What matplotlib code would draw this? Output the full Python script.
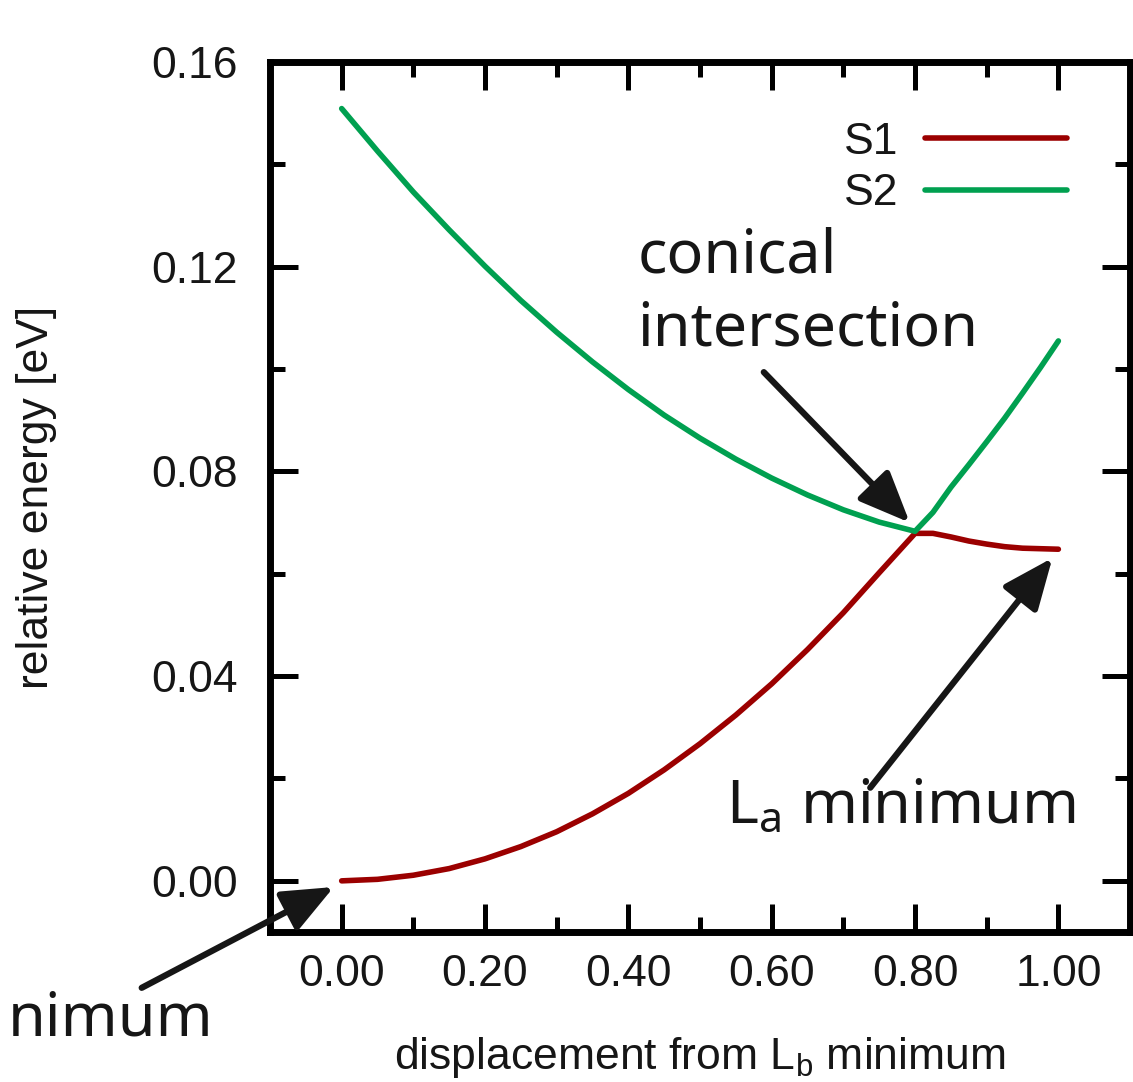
import matplotlib
matplotlib.use("Agg")
import matplotlib.pyplot as plt
from matplotlib.ticker import MultipleLocator, FormatStrFormatter

plt.rcParams['font.family'] = ['Liberation Sans', 'DejaVu Sans']
plt.rcParams['mathtext.default'] = 'regular'

# displacement along the path (fraction of the way to the La minimum)
disp = [0.00, 0.05, 0.10, 0.15, 0.20, 0.25, 0.30, 0.35, 0.40, 0.45, 0.50,
        0.55, 0.60, 0.65, 0.70, 0.75, 0.80, 0.825, 0.85, 0.875, 0.90,
        0.925, 0.95, 0.975, 1.00]
# relative energies [eV]
s1 = [0.0000, 0.0003, 0.0011, 0.0024, 0.0043, 0.0067, 0.0096, 0.0131, 0.0171,
      0.0217, 0.0268, 0.0324, 0.0385, 0.0452, 0.0524, 0.0602, 0.0679, 0.0679,
      0.0672, 0.0664, 0.0658, 0.0653, 0.0650, 0.0649, 0.0648]
s2 = [0.1509, 0.1426, 0.1346, 0.1272, 0.1201, 0.1134, 0.1072, 0.1014, 0.0960,
      0.0910, 0.0865, 0.0824, 0.0787, 0.0754, 0.0725, 0.0701, 0.0683, 0.0720,
      0.0769, 0.0813, 0.0858, 0.0904, 0.0953, 0.1003, 0.1055]

red = '#9b0000'
green = '#00a050'
ink = '#161616'
note_font = ['Noto Sans', 'DejaVu Sans']

fig = plt.figure(figsize=(11.33, 10.82), dpi=100)
ax = fig.add_axes([0.2383, 0.1386, 0.7591, 0.8041])

ax.plot(disp, s1, '-', color=red, lw=4.0, solid_capstyle='round',
        solid_joinstyle='round', label='S1')
ax.plot(disp, s2, '-', color=green, lw=4.0, solid_capstyle='round',
        solid_joinstyle='round', label='S2')

ax.set_xlim(-0.1, 1.1)
ax.set_ylim(-0.01, 0.16)
ax.xaxis.set_major_locator(MultipleLocator(0.2))
ax.xaxis.set_minor_locator(MultipleLocator(0.1))
ax.yaxis.set_major_locator(MultipleLocator(0.04))
ax.yaxis.set_minor_locator(MultipleLocator(0.02))
ax.xaxis.set_major_formatter(FormatStrFormatter('%.2f'))
ax.yaxis.set_major_formatter(FormatStrFormatter('%.2f'))

for s in ax.spines.values():
    s.set_linewidth(5)
    s.set_color('black')
ax.tick_params(which='both', direction='in', top=True, right=True,
               width=3.6, color='black', labelcolor=ink, labelsize=32)
ax.tick_params(which='major', length=20)
ax.tick_params(which='minor', length=11)
ax.tick_params(axis='x', pad=16)
ax.tick_params(axis='y', pad=23)

ax.set_xlabel('displacement from L$_b$ minimum', fontsize=32, color=ink)
ax.set_ylabel('relative energy [eV]', fontsize=32, color=ink)
ax.xaxis.set_label_coords(0.5, -0.118)
ax.yaxis.set_label_coords(-0.248, 0.5)

leg = ax.legend(loc='upper right', bbox_to_anchor=(0.9267, 0.931),
                frameon=False, fontsize=32, markerfirst=False,
                handlelength=3.2, handletextpad=0.6, labelspacing=0.235,
                borderpad=0, borderaxespad=0)
for t in leg.get_texts():
    t.set_color(ink)

# labels and arrows
ax.text(0.4125, 0.1047, 'conical\nintersection', fontsize=44, family=note_font,
        color=ink, ha='left', va='baseline', linespacing=1.25)
ax.text(0.536, 0.0115, 'L$_a$ minimum', fontsize=44, family=note_font,
        color=ink, ha='left', va='baseline')
fig.text(8 / 1133, 1 - 1035 / 1082, 'nimum', fontsize=44, family=note_font,
         color=ink, ha='left', va='baseline')

arrow = dict(arrowstyle='-|>,head_length=1.3,head_width=0.55', mutation_scale=24,
             lw=4.5, color=ink, shrinkA=0, shrinkB=0)
ax.annotate('', xy=(0.7926, 0.0700), xytext=(0.589, 0.0994), arrowprops=arrow)
ax.annotate('', xy=(0.9917, 0.0631), xytext=(0.7375, 0.0182), arrowprops=arrow)
ax.annotate('', xy=(-0.011, -0.0012), xytext=(-0.279, -0.0209),
            arrowprops=arrow, annotation_clip=False)

fig.savefig('out.png', dpi=100)
